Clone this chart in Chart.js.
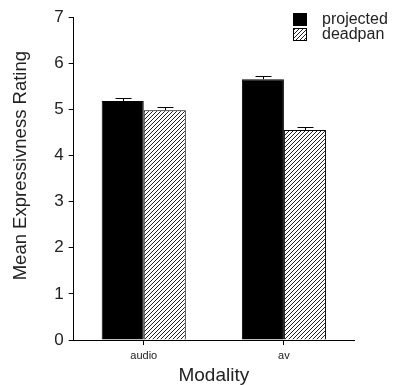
<!DOCTYPE html>
<html>
<head>
<meta charset="utf-8">
<script src="https://cdn.jsdelivr.net/npm/chart.js@4"></script>
<style>
  html, body { margin: 0; padding: 0; background: #fff; }
  #wrap { width: 403px; height: 385px; }
</style>
</head>
<body>
<div id="wrap"><canvas id="chart" width="403" height="385"></canvas></div>
<script>
// data
const categories = ['audio', 'av'];
const seriesNames = ['projected', 'deadpan'];
const projected = [5.18, 5.65];
const deadpan = [4.98, 4.55];
const projectedErr = [0.06, 0.07];
const deadpanErr = [0.07, 0.07];
const yTicks = [0, 1, 2, 3, 4, 5, 6, 7];

// diagonal hatch for the deadpan bars
function hatch() {
  const c = document.createElement('canvas');
  c.width = 4; c.height = 4;
  const g = c.getContext('2d');
  g.fillStyle = '#fff';
  g.fillRect(0, 0, 4, 4);
  g.strokeStyle = '#222';
  g.lineWidth = 1;
  g.beginPath();
  g.moveTo(0, 4); g.lineTo(4, 0);
  g.moveTo(-1, 1); g.lineTo(1, -1);
  g.moveTo(3, 5); g.lineTo(5, 3);
  g.stroke();
  return g.createPattern(c, 'repeat');
}

const ctx = document.getElementById('chart').getContext('2d');
const hatchFill = hatch();
const FONT = '"Liberation Sans", Arial, sans-serif';

const errorBars = {
  id: 'errorBars',
  afterDatasetsDraw(chart) {
    const y = chart.scales.y;
    const c = chart.ctx;
    c.save();
    c.strokeStyle = '#000';
    c.lineWidth = 1;
    chart.data.datasets.forEach((ds, i) => {
      chart.getDatasetMeta(i).data.forEach((bar, j) => {
        const top = Math.round(y.getPixelForValue(ds.data[j] + ds.err[j])) + 0.5;
        const x = Math.round(bar.x) + 0.5;
        c.beginPath();
        c.moveTo(x, bar.y);
        c.lineTo(x, top);
        c.moveTo(x - 8, top);
        c.lineTo(x + 8, top);
        c.stroke();
      });
    });
    c.restore();
  }
};

const legendBox = {
  id: 'legendBox',
  afterDraw(chart) {
    const c = chart.ctx;
    c.save();
    c.font = '16px ' + FONT;
    c.textBaseline = 'middle';
    chart.data.datasets.forEach((ds, i) => {
      const bx = 293, by = 13 + i * 15;
      c.fillStyle = ds.backgroundColor;
      c.fillRect(bx, by, 14, 13);
      c.strokeStyle = '#000';
      c.lineWidth = 1;
      c.strokeRect(bx + 0.5, by + 0.5, 13, 12);
      c.fillStyle = '#222';
      c.fillText(ds.label, 322, by + 7);
    });
    c.restore();
  }
};

new Chart(ctx, {
  type: 'bar',
  data: {
    labels: categories,
    datasets: [
      { label: seriesNames[0], data: projected, err: projectedErr,
        backgroundColor: '#000', borderColor: '#000', borderWidth: 1 },
      { label: seriesNames[1], data: deadpan, err: deadpanErr,
        backgroundColor: hatchFill, borderColor: '#000', borderWidth: 1 }
    ]
  },
  options: {
    responsive: false,
    animation: false,
    layout: { padding: { top: 17, right: 49, left: 6, bottom: 0 } },
    plugins: {
      legend: { display: false },
      tooltip: { enabled: false }
    },
    datasets: { bar: { barPercentage: 1, categoryPercentage: 0.6 } },
    scales: {
      x: {
        grid: { offset: false, drawOnChartArea: false, drawTicks: true, tickLength: 5, color: '#000' },
        border: { color: '#000', width: 1 },
        ticks: { color: '#222', font: { size: 11, family: FONT, lineHeight: 1 }, padding: 5 },
        title: { display: true, text: 'Modality', color: '#222',
          font: { size: 19, family: FONT, lineHeight: 1 }, padding: { top: 0, bottom: 0 } }
      },
      y: {
        min: 0, max: 7,
        afterBuildTicks(axis) {
          const t = [];
          yTicks.forEach((v, k) => {
            t.push({ value: v });
            if (k < yTicks.length - 1) t.push({ value: v + 0.5 });
          });
          axis.ticks = t;
        },
        grid: { drawOnChartArea: false, drawTicks: true, tickLength: 5, color: '#000' },
        border: { color: '#000', width: 1 },
        ticks: {
          color: '#222', padding: 5,
          font: { size: 17, family: FONT },
          callback: v => (Number.isInteger(v) ? v : '')
        },
        title: { display: true, text: '     Mean Expressivness Rating', color: '#222',
          font: { size: 18.5, family: FONT }, padding: { bottom: 17 } }
      }
    }
  },
  plugins: [errorBars, legendBox]
});
</script>
</body>
</html>
